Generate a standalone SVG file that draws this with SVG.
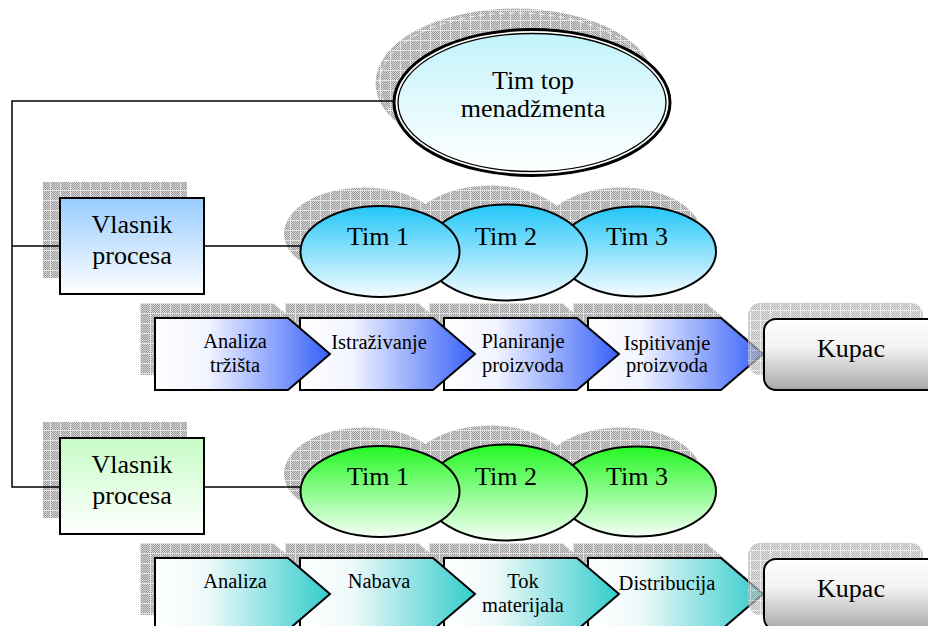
<svg xmlns="http://www.w3.org/2000/svg" width="928" height="626" viewBox="0 0 928 626">
<defs>
<pattern id="dots" width="2" height="2" patternUnits="userSpaceOnUse"><rect width="2" height="2" fill="#d6d6d6"/><rect width="1" height="1" fill="#9a9a9a"/><rect x="1" y="1" width="1" height="1" fill="#9a9a9a"/></pattern>
<pattern id="hatch" width="10" height="10" patternUnits="userSpaceOnUse"><rect width="10" height="10" fill="url(#dots)"/><path d="M0 0.5H10M0.5 0V10" stroke="#e4e4e4" stroke-width="1"/></pattern>
<linearGradient id="gTop" x1="0" y1="0" x2="0" y2="1"><stop offset="0" stop-color="#c2f3fb"/><stop offset="1" stop-color="#ffffff"/></linearGradient>
<linearGradient id="gBoxB" x1="0" y1="0" x2="0" y2="1"><stop offset="0" stop-color="#99ccff"/><stop offset="1" stop-color="#ffffff"/></linearGradient>
<linearGradient id="gTimB" x1="0" y1="0" x2="0" y2="1"><stop offset="0" stop-color="#22c6f8"/><stop offset="1" stop-color="#f6fcff"/></linearGradient>
<linearGradient id="gBoxG" x1="0" y1="0" x2="0" y2="1"><stop offset="0" stop-color="#c6fcc6"/><stop offset="1" stop-color="#ffffff"/></linearGradient>
<linearGradient id="gTimG" x1="0" y1="0" x2="0" y2="1"><stop offset="0" stop-color="#22f822"/><stop offset="1" stop-color="#f6fff6"/></linearGradient>
<linearGradient id="gPentB" x1="0" y1="0" x2="1" y2="0"><stop offset="0" stop-color="#ffffff"/><stop offset="0.3" stop-color="#f2f4ff"/><stop offset="1" stop-color="#3660f8"/></linearGradient>
<linearGradient id="gPentT" x1="0" y1="0" x2="1" y2="0"><stop offset="0" stop-color="#ffffff"/><stop offset="0.3" stop-color="#eef9f9"/><stop offset="1" stop-color="#33cccc"/></linearGradient>
<linearGradient id="gKupac" x1="0" y1="0" x2="0" y2="1"><stop offset="0" stop-color="#ffffff"/><stop offset="0.4" stop-color="#f2f2f2"/><stop offset="1" stop-color="#a8a8a8"/></linearGradient>
<path id="pent" d="M0 0H133L175 36L133 72H0Z"/>
</defs>
<style>
.sh{fill:url(#hatch)}
.ln{fill:none;stroke:#000;stroke-width:1.5}
.bd{stroke:#000;stroke-width:2}
text{font-family:"Liberation Serif","Times New Roman",serif;fill:#000;text-anchor:middle}
.t26{font-size:26px}
.t20{font-size:20.5px}
</style>

<g id="shadows">
<ellipse class="sh" cx="515" cy="83" rx="139.5" ry="74.5"/>
<ellipse cx="515" cy="83" rx="135.5" ry="70" fill="none" stroke="#ffffff" stroke-width="1" stroke-dasharray="6 4" opacity="0.8"/>
<rect class="sh" x="43" y="182" width="144" height="96"/>
<ellipse class="sh" cx="621" cy="233.5" rx="80" ry="46"/>
<ellipse class="sh" cx="490" cy="234.5" rx="82" ry="49"/>
<ellipse class="sh" cx="364" cy="233.5" rx="80" ry="46"/>
<use href="#pent" class="sh" x="573" y="303"/>
<use href="#pent" class="sh" x="429" y="303"/>
<use href="#pent" class="sh" x="285" y="303"/>
<use href="#pent" class="sh" x="140" y="303"/>
<rect class="sh" x="43" y="422" width="144" height="96"/>
<ellipse class="sh" cx="621" cy="473.5" rx="80" ry="46"/>
<ellipse class="sh" cx="490" cy="474.5" rx="82" ry="49"/>
<ellipse class="sh" cx="364" cy="473.5" rx="80" ry="46"/>
<use href="#pent" class="sh" x="573" y="543"/>
<use href="#pent" class="sh" x="429" y="543"/>
<use href="#pent" class="sh" x="285" y="543"/>
<use href="#pent" class="sh" x="140" y="543"/>
</g>

<g id="connectors" class="ln">
<path d="M395 101H12V487H60"/>
<path d="M12 246H60"/>
<path d="M204 246H301"/>
<path d="M204 487H301"/>
</g>

<g id="tim-top">
<ellipse cx="532" cy="102.5" rx="138" ry="73" fill="#ffffff" stroke="#000" stroke-width="3"/>
<ellipse cx="532" cy="102.5" rx="134" ry="69" fill="url(#gTop)" stroke="#000" stroke-width="1.3"/>
<text class="t26" x="533" y="89">Tim top</text>
<text class="t26" x="533" y="117">menadžmenta</text>
</g>

<g id="vlasnik-1">
<rect class="bd" x="60" y="198" width="144" height="96" fill="url(#gBoxB)"/>
<text class="t26" x="132" y="233">Vlasnik</text>
<text class="t26" x="132" y="264">procesa</text>
</g>

<g id="tim3-1"><ellipse class="bd" cx="637" cy="251.5" rx="79" ry="45" fill="url(#gTimB)"/><text class="t26" x="637" y="245">Tim 3</text></g>
<g id="tim2-1"><ellipse class="bd" cx="506" cy="252.5" rx="81" ry="48" fill="url(#gTimB)"/><text class="t26" x="506" y="245">Tim 2</text></g>
<g id="tim1-1"><ellipse class="bd" cx="380" cy="251.5" rx="79.5" ry="45.5" fill="url(#gTimB)"/><text class="t26" x="378" y="245">Tim 1</text></g>

<g id="p4-1"><use href="#pent" class="bd" x="588" y="318" fill="url(#gPentB)"/><text class="t20" x="667" y="350">Ispitivanje</text><text class="t20" x="667" y="372">proizvoda</text></g>
<g id="p3-1"><use href="#pent" class="bd" x="444" y="318" fill="url(#gPentB)"/><text class="t20" x="523" y="348">Planiranje</text><text class="t20" x="523" y="372">proizvoda</text></g>
<g id="p2-1"><use href="#pent" class="bd" x="300" y="318" fill="url(#gPentB)"/><text class="t20" x="379" y="349">Istraživanje</text></g>
<g id="p1-1"><use href="#pent" class="bd" x="155" y="318" fill="url(#gPentB)"/><text class="t20" x="235" y="348">Analiza</text><text class="t20" x="235" y="372">tržišta</text></g>

<g id="kupac-1">
<rect class="sh" x="748" y="303" width="175" height="72" rx="12" opacity="0.7"/>
<rect class="bd" x="764" y="319" width="175" height="71" rx="12" fill="url(#gKupac)"/>
<text class="t26" x="851" y="357">Kupac</text>
</g>

<g id="vlasnik-2">
<rect class="bd" x="60" y="438" width="144" height="96" fill="url(#gBoxG)"/>
<text class="t26" x="132" y="473">Vlasnik</text>
<text class="t26" x="132" y="504">procesa</text>
</g>

<g id="tim3-2"><ellipse class="bd" cx="637" cy="491.5" rx="79" ry="45" fill="url(#gTimG)"/><text class="t26" x="637" y="485">Tim 3</text></g>
<g id="tim2-2"><ellipse class="bd" cx="506" cy="492.5" rx="81" ry="48" fill="url(#gTimG)"/><text class="t26" x="506" y="485">Tim 2</text></g>
<g id="tim1-2"><ellipse class="bd" cx="380" cy="491.5" rx="79.5" ry="45.5" fill="url(#gTimG)"/><text class="t26" x="378" y="485">Tim 1</text></g>

<g id="p4-2"><use href="#pent" class="bd" x="588" y="558" fill="url(#gPentT)"/><text class="t20" x="667" y="590">Distribucija</text></g>
<g id="p3-2"><use href="#pent" class="bd" x="444" y="558" fill="url(#gPentT)"/><text class="t20" x="523" y="588">Tok</text><text class="t20" x="523" y="612">materijala</text></g>
<g id="p2-2"><use href="#pent" class="bd" x="300" y="558" fill="url(#gPentT)"/><text class="t20" x="379" y="588">Nabava</text></g>
<g id="p1-2"><use href="#pent" class="bd" x="155" y="558" fill="url(#gPentT)"/><text class="t20" x="235" y="588">Analiza</text></g>

<g id="kupac-2">
<rect class="sh" x="748" y="543" width="175" height="72" rx="12" opacity="0.7"/>
<rect class="bd" x="764" y="559" width="175" height="71" rx="12" fill="url(#gKupac)"/>
<text class="t26" x="851" y="597">Kupac</text>
</g>
</svg>
